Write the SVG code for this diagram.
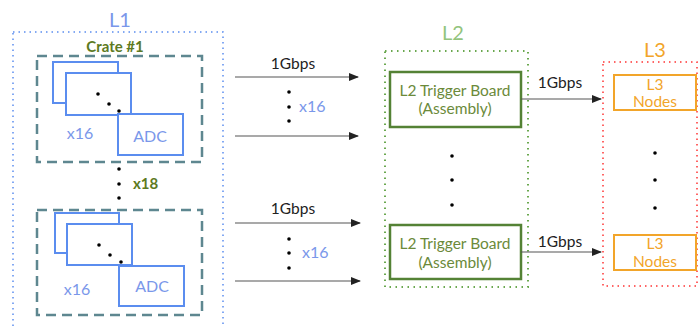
<svg xmlns="http://www.w3.org/2000/svg" width="699" height="326" viewBox="0 0 699 326">
<style>
text{font-family:Lato,"Liberation Sans",sans-serif}
.blue{fill:#7a97ea}
.card{fill:#fff;stroke:#5b8def;stroke-width:2}
.crate{fill:none;stroke:#5e8790;stroke-width:2.5;stroke-dasharray:10,6}
.olive{fill:#5d7a22;font-weight:bold;font-size:15px}
.dot{fill:#000}
.conn{stroke:#555;stroke-width:1.2;fill:none;marker-end:url(#ah)}
.lbl{font-size:15.5px;fill:#222}
.l2b{fill:#fff;stroke:#548235;stroke-width:2.5}
.l2t{fill:#6b8a3a;font-size:15.5px}
.l3b{fill:#fff;stroke:#f2a52a;stroke-width:2}
.l3t{fill:#f2a52a;font-size:15.5px}
</style>
<defs>
<marker id="ah" markerWidth="10" markerHeight="8" refX="9" refY="4" orient="auto" markerUnits="userSpaceOnUse">
<path d="M0,0 L10,4 L0,8 z" fill="#222"/>
</marker>
</defs>
<rect width="699" height="326" fill="#fff"/>

<g id="L1">
<rect x="13" y="32" width="210" height="300" fill="none" stroke="#5b8def" stroke-width="1.5" stroke-dasharray="1.5,4"/>
<text x="120" y="27" font-size="20" text-anchor="middle" class="blue">L1</text>
</g>

<g id="crate1">
<rect class="crate" x="37" y="56" width="165" height="106"/>
<text class="olive" x="115" y="52" text-anchor="middle">Crate #1</text>
<rect class="card" x="53" y="62" width="65" height="41"/>
<rect class="card" x="66" y="73" width="65" height="42"/>
<rect class="card" x="118" y="114" width="65" height="41"/>
<text x="150" y="142" font-size="16" text-anchor="middle" class="blue">ADC</text>
<text x="80" y="139" font-size="16" text-anchor="middle" class="blue">x16</text>
<circle class="dot" cx="98" cy="94" r="1.8"/>
<circle class="dot" cx="109" cy="104" r="1.8"/>
<circle class="dot" cx="119" cy="111" r="1.8"/>
</g>

<g id="crates-more">
<circle class="dot" cx="119" cy="169" r="1.8"/>
<circle class="dot" cx="119" cy="184" r="1.8"/>
<circle class="dot" cx="119" cy="198" r="1.8"/>
<text class="olive" x="133" y="189">x18</text>
</g>

<g id="crate2">
<rect class="crate" x="37" y="210" width="165" height="105"/>
<rect class="card" x="55" y="213" width="64" height="40"/>
<rect class="card" x="67" y="224" width="65" height="41"/>
<rect class="card" x="119" y="266" width="65" height="40"/>
<text x="152" y="292" font-size="16" text-anchor="middle" class="blue">ADC</text>
<text x="77" y="295" font-size="16" text-anchor="middle" class="blue">x16</text>
<circle class="dot" cx="99" cy="245" r="1.8"/>
<circle class="dot" cx="110" cy="255" r="1.8"/>
<circle class="dot" cx="121" cy="262" r="1.8"/>
</g>

<g id="L2">
<rect x="385" y="51" width="143" height="236" fill="none" stroke="#6aa84f" stroke-width="2" stroke-dasharray="1.5,4.5"/>
<text x="453" y="40" font-size="20" text-anchor="middle" fill="#93c47d">L2</text>
</g>

<g id="l2board1">
<rect class="l2b" x="390" y="72" width="131" height="55"/>
<text class="l2t" x="455" y="96" text-anchor="middle">L2 Trigger Board</text>
<text class="l2t" x="455" y="114" text-anchor="middle">(Assembly)</text>
</g>

<g id="l2more">
<circle class="dot" cx="452" cy="156" r="1.8"/>
<circle class="dot" cx="452" cy="180" r="1.8"/>
<circle class="dot" cx="452" cy="205" r="1.8"/>
</g>

<g id="l2board2">
<rect class="l2b" x="390" y="225" width="131" height="54"/>
<text class="l2t" x="455" y="249" text-anchor="middle">L2 Trigger Board</text>
<text class="l2t" x="455" y="268" text-anchor="middle">(Assembly)</text>
</g>

<g id="L3">
<rect x="603" y="62" width="94" height="224" fill="none" stroke="#ff3333" stroke-width="1.5" stroke-dasharray="1.5,4"/>
<text x="655" y="57" font-size="20" text-anchor="middle" fill="#f2a52a">L3</text>
</g>

<g id="l3node1">
<rect class="l3b" x="614" y="75" width="82" height="35"/>
<text class="l3t" x="655" y="90" text-anchor="middle">L3</text>
<text class="l3t" x="655" y="107" text-anchor="middle">Nodes</text>
</g>

<g id="l3more">
<circle class="dot" cx="655" cy="153" r="1.8"/>
<circle class="dot" cx="655" cy="180" r="1.8"/>
<circle class="dot" cx="655" cy="208" r="1.8"/>
</g>

<g id="l3node2">
<rect class="l3b" x="614" y="235" width="82" height="35"/>
<text class="l3t" x="655" y="249" text-anchor="middle">L3</text>
<text class="l3t" x="655" y="267" text-anchor="middle">Nodes</text>
</g>

<g id="connectors">
<line class="conn" x1="235" y1="77" x2="358" y2="77"/>
<line class="conn" x1="235" y1="136" x2="358" y2="136"/>
<text class="lbl" x="293" y="69" text-anchor="middle">1Gbps</text>
<circle class="dot" cx="289" cy="92" r="1.8"/>
<circle class="dot" cx="289" cy="107" r="1.8"/>
<circle class="dot" cx="289" cy="121" r="1.8"/>
<text x="299" y="112" font-size="16" class="blue">x16</text>

<line class="conn" x1="235" y1="223" x2="360" y2="223"/>
<line class="conn" x1="235" y1="281" x2="360" y2="281"/>
<text class="lbl" x="293" y="214" text-anchor="middle">1Gbps</text>
<circle class="dot" cx="289" cy="239" r="1.8"/>
<circle class="dot" cx="289" cy="253" r="1.8"/>
<circle class="dot" cx="289" cy="268" r="1.8"/>
<text x="302" y="258" font-size="16" class="blue">x16</text>

<line class="conn" x1="521" y1="99" x2="601" y2="99"/>
<text class="lbl" x="560" y="88" text-anchor="middle">1Gbps</text>
<line class="conn" x1="521" y1="252" x2="601" y2="252"/>
<text class="lbl" x="560" y="247" text-anchor="middle">1Gbps</text>
</g>
</svg>
